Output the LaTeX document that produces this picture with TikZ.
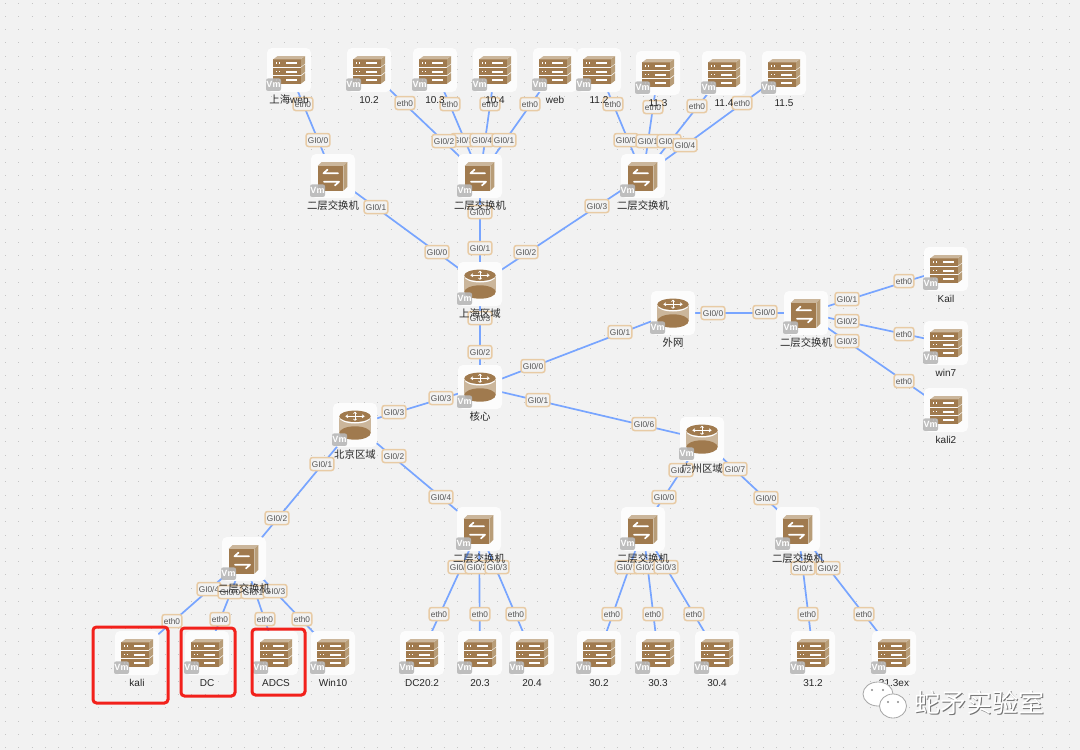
\documentclass[tikz,border=0pt]{standalone}
\usepackage{fontspec}
\setmainfont{Liberation Sans}
\newfontfamily\cjk[Scale=1.04]{Noto Sans CJK SC}
\newfontfamily\cjkw{Noto Sans CJK SC}
\usetikzlibrary{backgrounds}
\definecolor{bgc}{HTML}{F2F2F2}
\definecolor{dotc}{HTML}{C4C4C4}
\definecolor{linec}{HTML}{78A5FF}
\definecolor{brown1}{HTML}{A07A4E}
\definecolor{brown2}{HTML}{CBB69B}
\definecolor{brown3}{HTML}{B89D78}
\definecolor{labb}{HTML}{E8CBA5}
\definecolor{labt}{HTML}{555555}
\definecolor{redb}{HTML}{F2211B}
\pgfdeclarelayer{edgelayer}
\pgfdeclarelayer{devlayer}
\pgfdeclarelayer{lablayer}
\pgfsetlayers{background,edgelayer,devlayer,lablayer,main}
\tikzset{
  devbox/.style={fill=white!80!bgc,draw=none,rounded corners=5pt,minimum width=44pt,minimum height=44pt,inner sep=0pt},
  devtext/.style={text=black!85,inner sep=0pt,text height=8pt,text depth=2pt,font=\fontsize{10}{11}\selectfont},
  elab/.style={fill=bgc,draw=labb,line width=1.5pt,rounded corners=2.5pt,text=labt,inner xsep=1.8pt,inner ysep=0pt,
     minimum height=13pt,text height=6pt,text depth=0pt,font=\fontsize{8.3}{9}\selectfont},
  conn/.style={draw=linec,line width=1.7pt},
  redbox/.style={draw=redb,line width=3pt,rounded corners=3.5pt,inner sep=0pt},
  vmbadge/.pic={
    \node[fill=black!28,fill opacity=.9,text opacity=1,rounded corners=2pt,minimum width=15pt,minimum height=12.5pt,inner sep=0pt,
      text=white,font=\fontsize{9}{9}\bfseries\selectfont] (-vm) at (-15.5,14.7) {Vm};
  },
  server/.pic={
    \foreach \yy in {-10.7,-2.3,6.3}{
      \fill[brown3] (11.7,\yy) -- (16,\yy-3.3) -- (16,\yy+4.3) -- (11.7,\yy+7.6) -- cycle;
      \fill[brown1] (-15.7,\yy) rectangle (11.7,\yy+7.6);
      \fill[white] (-13.2,\yy+2.9) rectangle (-11.7,\yy+4.6);
      \fill[white] (-10.4,\yy+2.9) rectangle (-8.9,\yy+4.6);
      \fill[white] (-3,\yy+2.8) rectangle (8.4,\yy+4.8);
    }
    \fill[brown2] (-15.7,-10.7) -- (-11.4,-14) -- (16,-14) -- (11.7,-10.7) -- cycle;
    \pic (-b) {vmbadge};
  },
  switchicon/.pic={
    \fill[brown2] (-15.3,-10) -- (-11.3,-14) -- (14.3,-14) -- (10.3,-10) -- cycle;
    \fill[brown3] (10.3,-10) -- (14.3,-14) -- (14.3,10.7) -- (10.3,14.7) -- cycle;
    \fill[brown1] (-15.3,-10) rectangle (10.3,14.7);
    \draw[white,line width=1.7pt,line cap=round,line join=round] (5,-2.7) -- (-9.5,-2.7) -- (-5.5,-6.4);
    \draw[white,line width=1.7pt,line cap=round,line join=round] (-9,5.7) -- (6,5.7) -- (2,9.4);
    \pic (-b) {vmbadge};
  },
  routericon/.pic={
    \fill[brown2] (-15.7,-8.7) rectangle (15.7,8);
    \fill[brown1] (0,8) ellipse [x radius=15.7,y radius=6.7];
    \fill[white] (0,-7.7) ellipse [x radius=15.7,y radius=6.2];
    \fill[brown1] (0,-8.7) ellipse [x radius=15.7,y radius=5.7];
    \draw[white,line width=.9pt] (-9,-8.7) -- (9,-8.7) (0,-12.7) -- (0,-4.7);
    \draw[white,line width=.8pt] (-7,-10.2) -- (-9,-8.7) -- (-7,-7.2) (7,-10.2) -- (9,-8.7) -- (7,-7.2)
      (-1.5,-11.4) -- (0,-12.7) -- (1.5,-11.4) (-1.5,-6) -- (0,-4.7) -- (1.5,-6);
    \pic (-b) {vmbadge};
  }
}
% #1 icon, #2 name, #3 x, #4 y, #5 text
\newcommand\device[5]{%
  \begin{pgfonlayer}{devlayer}
    \node[devbox] (#2) at (#3,#4) {};
    \pic (#2-ic) at (#2.center) {#1};
  \end{pgfonlayer}
  \node[devtext,yshift=-30.5pt] (#2-t) at (#2.center) {#5};
}
\newcounter{labn}
\newcommand\elabel[3]{%
  \stepcounter{labn}%
  \begin{pgfonlayer}{lablayer}
    \node[elab] (lab\arabic{labn}) at (#1,#2) {#3};
  \end{pgfonlayer}
}
\begin{document}
\begin{tikzpicture}[x=1pt,y=-1pt]
\useasboundingbox (0,0) rectangle (1080,750);
\begin{pgfonlayer}{background}
  \fill[bgc] (0,0) rectangle (1080,750);
  \foreach \yy in {3,16.3,...,750}{
    \draw[dotc,line width=1pt,dash pattern=on 1pt off 12.3pt] (5,\yy) -- (1080,\yy);
  }
\end{pgfonlayer}
% top row servers
\device{server}{web1}{289}{70}{{\cjk 上海}web}
\device{server}{s102}{369}{70}{10.2}
\device{server}{s103}{435}{70}{10.3}
\device{server}{s104}{495}{70}{10.4}
\device{server}{sweb}{555}{70}{web}
\device{server}{s112}{599}{70}{11.2}
\device{server}{s113}{658}{73}{11.3}
\device{server}{s114}{724}{73}{11.4}
\device{server}{s115}{784}{73}{11.5}
% upper switches
\device{switchicon}{sw1}{333}{176}{\cjk 二层交换机}
\device{switchicon}{sw2}{480}{176}{\cjk 二层交换机}
\device{switchicon}{sw3}{643}{176}{\cjk 二层交换机}
% routers
\device{routericon}{sh}{480}{284}{\cjk 上海区域}
\device{routericon}{core}{480}{387}{\cjk 核心}
\device{routericon}{out}{673}{313}{\cjk 外网}
\device{routericon}{bj}{355}{425}{\cjk 北京区域}
\device{routericon}{gz}{702}{439}{\cjk 广州区域}
% right block
\device{switchicon}{swr}{806}{313}{\cjk 二层交换机}
\device{server}{kail}{946}{269}{Kail}
\device{server}{win7}{946}{343}{win7}
\device{server}{kali2}{946}{410}{kali2}
% lower switches
\device{switchicon}{swbl}{244}{559}{\cjk 二层交换机}
\device{switchicon}{swbr}{479}{529}{\cjk 二层交换机}
\device{switchicon}{swg1}{643}{529}{\cjk 二层交换机}
\device{switchicon}{swg2}{798}{529}{\cjk 二层交换机}
% bottom servers
\device{server}{kali}{137}{653}{kali}
\device{server}{dc}{207}{653}{DC}
\device{server}{adcs}{276}{653}{ADCS}
\device{server}{win10}{333}{653}{Win10}
\device{server}{dc202}{422}{653}{DC20.2}
\device{server}{s203}{480}{653}{20.3}
\device{server}{s204}{532}{653}{20.4}
\device{server}{s302}{599}{653}{30.2}
\device{server}{s303}{658}{653}{30.3}
\device{server}{s304}{717}{653}{30.4}
\device{server}{s312}{813}{653}{31.2}
\device{server}{s313}{894}{653}{31.3ex}
% connectors
\begin{pgfonlayer}{edgelayer}
  \foreach \a/\b in {web1/sw1,s102/sw2,s103/sw2,s104/sw2,sweb/sw2,s112/sw3,s113/sw3,s114/sw3,s115/sw3,
    sw1/sh,sw2/sh,sw3/sh,sh/core,core/out,core/bj,core/gz,out/swr,swr/kail,swr/win7,swr/kali2,
    bj/swbl,bj/swbr,gz/swg1,gz/swg2,swbl/kali,swbl/dc,swbl/adcs,swbl/win10,
    swbr/dc202,swbr/s203,swbr/s204,swg1/s302,swg1/s303,swg1/s304,swg2/s312,swg2/s313}{
    \draw[conn] (\a.center) -- (\b.center);
  }
\end{pgfonlayer}
% connector labels
\elabel{303}{104}{eth0}
\elabel{318}{140}{GI0/0}
\elabel{376}{207}{GI0/1}
\elabel{405}{103}{eth0}
\elabel{450}{104}{eth0}
\elabel{490}{104}{eth0}
\elabel{530}{104}{eth0}
\elabel{463}{140}{GI0/3}
\elabel{482}{140}{GI0/4}
\elabel{444}{141}{GI0/2}
\elabel{504}{140}{GI0/1}
\elabel{480}{212}{GI0/0}
\elabel{613}{104}{eth0}
\elabel{653}{107}{eth0}
\elabel{697}{106}{eth0}
\elabel{742}{103}{eth0}
\elabel{626}{140}{GI0/0}
\elabel{648}{141}{GI0/1}
\elabel{669}{141}{GI0/2}
\elabel{685}{145}{GI0/4}
\elabel{597}{206}{GI0/3}
\elabel{437}{252}{GI0/0}
\elabel{480}{248}{GI0/1}
\elabel{526}{252}{GI0/2}
\elabel{480}{318}{GI0/3}
\elabel{480}{352}{GI0/2}
\elabel{533}{366}{GI0/0}
\elabel{620}{332}{GI0/1}
\elabel{441}{398}{GI0/3}
\elabel{538}{400}{GI0/1}
\elabel{644}{424}{GI0/6}
\elabel{713}{313}{GI0/0}
\elabel{765}{312}{GI0/0}
\elabel{847}{299}{GI0/1}
\elabel{847}{321}{GI0/2}
\elabel{847}{341}{GI0/3}
\elabel{904}{281}{eth0}
\elabel{904}{334}{eth0}
\elabel{904}{381}{eth0}
\elabel{394}{412}{GI0/3}
\elabel{322}{464}{GI0/1}
\elabel{394}{456}{GI0/2}
\elabel{441}{497}{GI0/4}
\elabel{681}{470}{GI0/2}
\elabel{735}{469}{GI0/7}
\elabel{664}{497}{GI0/0}
\elabel{766}{498}{GI0/0}
\elabel{277}{518}{GI0/2}
\elabel{209}{589}{GI0/4}
\elabel{230}{592}{GI0/0}
\elabel{253}{592}{GI0/1}
\elabel{275}{591}{GI0/3}
\elabel{172}{621}{eth0}
\elabel{220}{619}{eth0}
\elabel{265}{619}{eth0}
\elabel{302}{619}{eth0}
\elabel{460}{567}{GI0/1}
\elabel{477}{567}{GI0/2}
\elabel{497}{567}{GI0/3}
\elabel{439}{614}{eth0}
\elabel{480}{614}{eth0}
\elabel{516}{614}{eth0}
\elabel{627}{567}{GI0/1}
\elabel{646}{567}{GI0/2}
\elabel{666}{567}{GI0/3}
\elabel{612}{614}{eth0}
\elabel{653}{614}{eth0}
\elabel{694}{614}{eth0}
\elabel{803}{568}{GI0/1}
\elabel{828}{568}{GI0/2}
\elabel{808}{614}{eth0}
\elabel{864}{614}{eth0}
% red highlight boxes
\node[redbox,minimum width=75pt,minimum height=76pt] (r1) at (130.5,665) {};
\node[redbox,minimum width=54pt,minimum height=68pt] (r2) at (208,662) {};
\node[redbox,minimum width=53pt,minimum height=66pt] (r3) at (278.5,662) {};
% watermark
\fill[white,draw=black!35,line width=.8pt] (878,694) ellipse [x radius=15,y radius=12];
\fill[black!45] (872,690) circle (1.2) (883,690) circle (1.2);
\fill[white,draw=black!35,line width=.8pt] (893,706) ellipse [x radius=13.5,y radius=12];
\fill[black!45] (888,702) circle (1.2) (898,702) circle (1.2);
\node[inner sep=0pt,text=black!55,font=\cjkw\fontsize{26}{28}\selectfont] (wm1) at (980,703.5) {蛇矛实验室};
\node[inner sep=0pt,text=white,font=\cjkw\fontsize{26}{28}\selectfont] (wm2) at (979,702.5) {蛇矛实验室};
\end{tikzpicture}
\end{document}
